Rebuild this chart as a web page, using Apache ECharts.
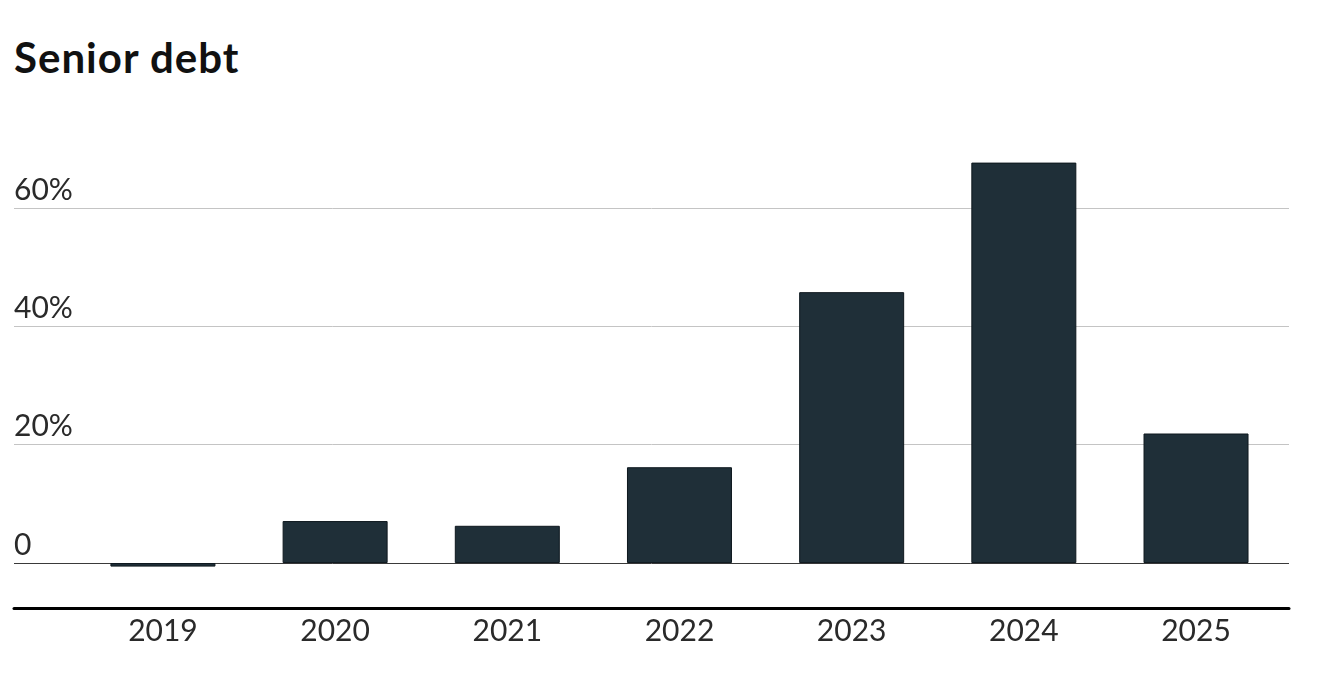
<!DOCTYPE html>
<html>
<head>
<meta charset="utf-8">
<title>Senior debt</title>
<script src="https://cdn.jsdelivr.net/npm/echarts@6/dist/echarts.min.js"></script>
<style>
    html, body { margin: 0; padding: 0; background: #fff; }
    #title { position: absolute; left: 14px; top: 32px; font-family: Lato, "Noto Sans", sans-serif; font-weight: 700; font-size: 42px; letter-spacing: 1px; color: #111; line-height: 1.2; }
    #senior_graph { width: 1320px; height: 676px; }
</style>
</head>
<body>
<div id="title">Senior debt</div>
<div id="senior_graph"></div>
<script>
//数据
var years = ['2019', '2020', '2021', '2022', '2023', '2024', '2025'];
var seniorDebt = [-0.6, 7.1, 6.3, 16.2, 45.8, 67.7, 21.9];
var gridValues = [0, 20, 40, 60];

function seniorGraph() {
    var barData = new Array();
    for (var i = 0; i < years.length; i++) {
        barData[i] = [i, seniorDebt[i]];
    }
    var lines = new Array();
    for (var j = 0; j < gridValues.length; j++) {
        lines[j] = {
            yAxis: gridValues[j],
            lineStyle: gridValues[j] === 0
                ? { color: '#3a3a3a', width: 1, type: 'solid' }
                : { color: '#c4c4c4', width: 1, type: 'solid' }
        };
    }
    var senior_graph = echarts.init(document.getElementById("senior_graph"));
    var option = {
        animation: false,
        grid: {
            left: 14,
            right: 31,
            top: 149,
            bottom: 68
        },
        xAxis: {
            type: 'value',
            min: -0.865,
            max: 6.54,
            minInterval: 1,
            maxInterval: 1,
            splitLine: { show: false },
            axisTick: { show: false },
            axisLine: {
                onZero: false,
                lineStyle: { color: '#000', width: 3 }
            },
            axisLabel: {
                margin: 8,
                fontFamily: 'Lato',
                fontSize: 30,
                color: '#2a2a2a',
                showMinLabel: false,
                showMaxLabel: false,
                formatter: function (v) {
                    return Number.isInteger(v) && years[v] ? years[v] : '';
                }
            }
        },
        yAxis: {
            type: 'value',
            min: -7.6,
            max: 70,
            splitLine: { show: false },
            axisLine: { show: false },
            axisTick: { show: false },
            axisLabel: {
                inside: true,
                margin: 0,
                align: 'left',
                verticalAlign: 'bottom',
                padding: [0, 0, 3, 0],
                fontFamily: 'Lato',
                fontSize: 30,
                color: '#2a2a2a',
                formatter: function (v) {
                    if (v % 20 !== 0) return '';
                    return v === 0 ? '0' : v + '%';
                }
            }
        },
        series: [{
            type: 'bar',
            barWidth: 105,
            data: barData,
            itemStyle: {
                color: '#1f2f38',
                borderColor: '#0e181e',
                borderWidth: 1
            },
            markLine: {
                silent: true,
                symbol: 'none',
                label: { show: false },
                z: 1,
                data: lines
            }
        }]
    };
    senior_graph.setOption(option);
}
seniorGraph();
</script>
</body>
</html>
